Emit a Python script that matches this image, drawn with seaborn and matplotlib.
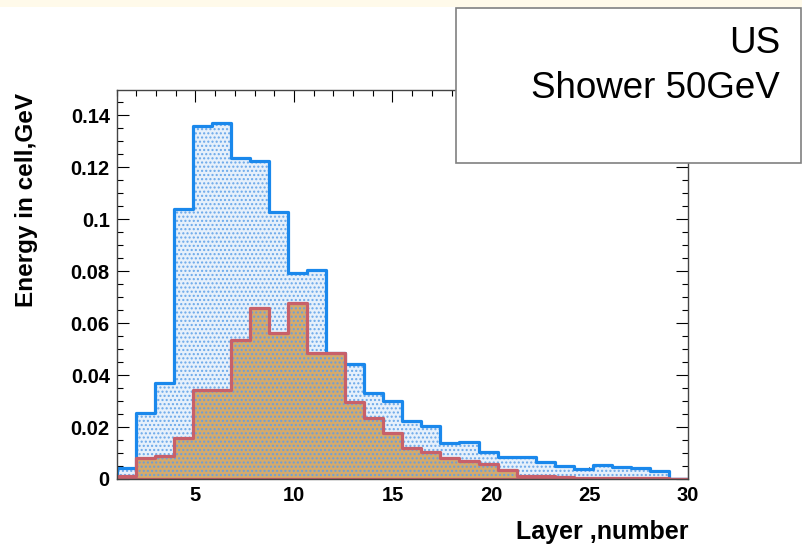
import numpy as np
import pandas as pd
import matplotlib
matplotlib.use("Agg")
import matplotlib.pyplot as plt
import seaborn as sns
from matplotlib.patches import Rectangle
from matplotlib.ticker import MultipleLocator, FuncFormatter

# Energy deposited per calorimeter layer (GeV)
layers = list(range(1, 31))
shower_total = [0.0042, 0.0254, 0.0370, 0.1040, 0.1359, 0.1372, 0.1235, 0.1226,
                0.1028, 0.0795, 0.0805, 0.0486, 0.0442, 0.0332, 0.0301, 0.0222,
                0.0206, 0.0138, 0.0142, 0.0103, 0.0086, 0.0085, 0.0065, 0.0050,
                0.0038, 0.0055, 0.0045, 0.0043, 0.0032, 0.0]
shower_core = [0.0010, 0.0080, 0.0089, 0.0157, 0.0343, 0.0343, 0.0535, 0.0658,
               0.0562, 0.0678, 0.0485, 0.0485, 0.0298, 0.0234, 0.0176, 0.0118,
               0.0105, 0.0081, 0.0069, 0.0056, 0.0035, 0.0010, 0.0010, 0.0008,
               0.0002, 0.0002, 0.0005, 0.0002, 0.0002, 0.0]
x_ticks = [5, 10, 15, 20, 25, 30]
y_ticks = [0, 0.02, 0.04, 0.06, 0.08, 0.1, 0.12, 0.14]

df = pd.DataFrame({"layer": layers, "total": shower_total, "core": shower_core})
# 30 equal bins spanning layers 1..30
bin_edges = [float(e) for e in np.linspace(1, 30, 31)]

sns.set_style("ticks")
plt.rcParams["font.family"] = ["Liberation Sans", "DejaVu Sans"]
plt.rcParams["hatch.linewidth"] = 1.0
plt.rcParams["text.color"] = "black"
plt.rcParams["xtick.labelcolor"] = "black"
plt.rcParams["ytick.labelcolor"] = "black"

W, H = 802, 548
fig = plt.figure(figsize=(W / 100, H / 100), dpi=100)
fig.patch.set_facecolor("white")
ax = fig.add_axes([116.7 / W, 1 - 479 / H, (688 - 116.7) / W, (479 - 90) / H])
ax.set_facecolor("white")

BLUE = "#1a88ec"
RED = "#c8606a"

# total shower: dotted light-blue fill, then outline
sns.histplot(data=df, x="layer", weights="total", bins=bin_edges, element="step",
             fill=True, color="#e6f0fb", facecolor="#e6f0fb", edgecolor="#6aa8ea",
             hatch="....", linewidth=0, ax=ax)
sns.histplot(data=df, x="layer", weights="total", bins=bin_edges, element="step",
             fill=True, color=BLUE, facecolor="none", edgecolor=BLUE,
             linewidth=2.3, ax=ax)

# core part: dotted tan fill, then outline
sns.histplot(data=df, x="layer", weights="core", bins=bin_edges, element="step",
             fill=True, color="#d4aa6c", facecolor="#d4aa6c", edgecolor="#6b9fdb",
             hatch="....", linewidth=0, ax=ax)
sns.histplot(data=df, x="layer", weights="core", bins=bin_edges, element="step",
             fill=True, color=RED, facecolor="none", edgecolor=RED,
             linewidth=2.3, ax=ax)

ax.set_xlim(1, 30)
ax.set_ylim(0, 0.1498)
ax.set_xticks(x_ticks)
ax.set_yticks(y_ticks)
ax.xaxis.set_minor_locator(MultipleLocator(1))
ax.yaxis.set_minor_locator(MultipleLocator(0.005))
ax.yaxis.set_major_formatter(FuncFormatter(lambda v, p: f"{v:g}"))
ax.set_xlabel("")
ax.set_ylabel("")

ax.tick_params(which="both", direction="in", top=True, right=True,
               color="black", labelcolor="black", width=0.8)
ax.tick_params(which="major", length=8.6, labelsize=14.5, pad=5)
ax.tick_params(which="minor", length=4.3)
for lab in ax.get_xticklabels() + ax.get_yticklabels():
    lab.set_fontweight("bold")
for sp in ax.spines.values():
    sp.set_color("#444444")
    sp.set_linewidth(1.0)
    sp.set_zorder(5)

# axis titles, ROOT style (at the ends of the axes)
fig.text(688 / W, 1 - 532 / H, "Layer ,number", ha="right", va="center",
         fontsize=18, fontweight="bold", color="black")
fig.text(27 / W, 1 - 93 / H, "Energy in cell,GeV", rotation=90, ha="center",
         va="top", fontsize=17.5, fontweight="bold", color="black")

# cream band along the top edge
fig.add_artist(Rectangle((0, 1 - 7 / H), 1, 7 / H, transform=fig.transFigure,
                         facecolor="#fffaea", edgecolor="none", zorder=1))

# label box
fig.add_artist(Rectangle((456 / W, 1 - 163 / H), (801 - 456) / W, (163 - 8) / H,
                         transform=fig.transFigure, facecolor="white",
                         edgecolor="#808080", linewidth=1.2, zorder=10))
fig.text(780 / W, 1 - 53 / H, "US", ha="right", va="baseline", fontsize=26.5,
         color="black", zorder=11)
fig.text(780 / W, 1 - 98 / H, "Shower 50GeV", ha="right", va="baseline",
         fontsize=26.5, color="black", zorder=11)

fig.savefig("out.png", dpi=100)
